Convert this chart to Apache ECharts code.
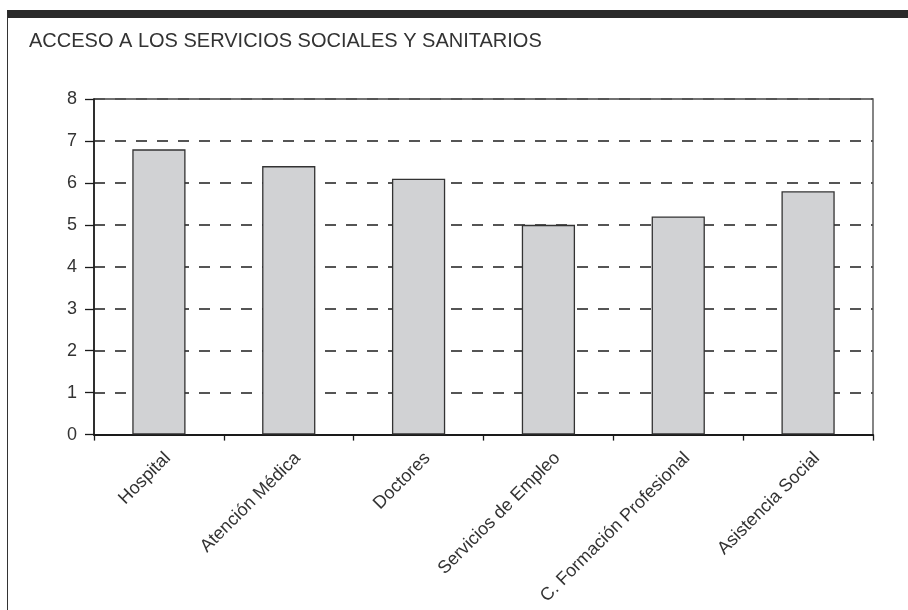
<!DOCTYPE html>
<html>
<head>
<meta charset="utf-8">
<script src="https://cdn.jsdelivr.net/npm/echarts@6/dist/echarts.min.js"></script>
<style>
  html, body { margin: 0; padding: 0; background: #fff; }
  #frame { position: absolute; left: 7px; top: 10px; width: 901px; height: 600px;
           border-top: 8px solid #2a2a2a; border-left: 1.5px solid #333; box-sizing: border-box; }
  #chart { position: absolute; left: 0; top: 0; width: 908px; height: 610px; }
</style>
</head>
<body>
<div id="frame"></div>
<div id="chart"></div>
<script>
const titleText = 'ACCESO A LOS SERVICIOS SOCIALES Y SANITARIOS';
const categories = ['Hospital', 'Atención Médica', 'Doctores', 'Servicios de Empleo', 'C. Formación Profesional', 'Asistencia Social'];
const values = [6.8, 6.4, 6.1, 5.0, 5.2, 5.8];
const yTicks = [0, 1, 2, 3, 4, 5, 6, 7, 8];

const font = "'Liberation Sans', Arial, Helvetica, sans-serif";
const chart = echarts.init(document.getElementById('chart'), null, { renderer: 'canvas' });
chart.setOption({
  backgroundColor: 'transparent',
  animation: false,
  title: {
    text: titleText,
    left: 29, top: 31, padding: 0,
    textStyle: { fontFamily: font, fontSize: 20, fontWeight: 'normal', color: '#333' }
  },
  grid: {
    left: 94, right: 35, top: 99, bottom: 175,
    show: true, borderColor: '#444', borderWidth: 1.3, backgroundColor: 'transparent'
  },
  xAxis: {
    type: 'category',
    data: categories,
    axisLine: { lineStyle: { color: '#1a1a1a', width: 2 } },
    axisTick: { show: true, length: 6, lineStyle: { color: '#1a1a1a', width: 1.3 } },
    axisLabel: {
      interval: 0, rotate: 45, margin: 12,
      verticalAlign: 'top', lineHeight: 25,
      fontFamily: font, fontSize: 18, color: '#333'
    }
  },
  yAxis: {
    type: 'value',
    min: yTicks[0], max: yTicks[yTicks.length - 1], interval: 1,
    axisLine: { show: true, lineStyle: { color: '#1a1a1a', width: 1.6 } },
    axisTick: { show: true, length: 9, lineStyle: { color: '#1a1a1a', width: 1.3 } },
    axisLabel: { margin: 17, fontFamily: font, fontSize: 18, color: '#333' },
    splitLine: { show: true, lineStyle: { color: '#555', width: 2, type: [11, 10] } }
  },
  series: [{
    type: 'bar',
    data: values,
    barWidth: '41%',
    itemStyle: { color: '#d1d2d4', borderColor: '#333', borderWidth: 1.3 }
  }]
});
</script>
</body>
</html>
